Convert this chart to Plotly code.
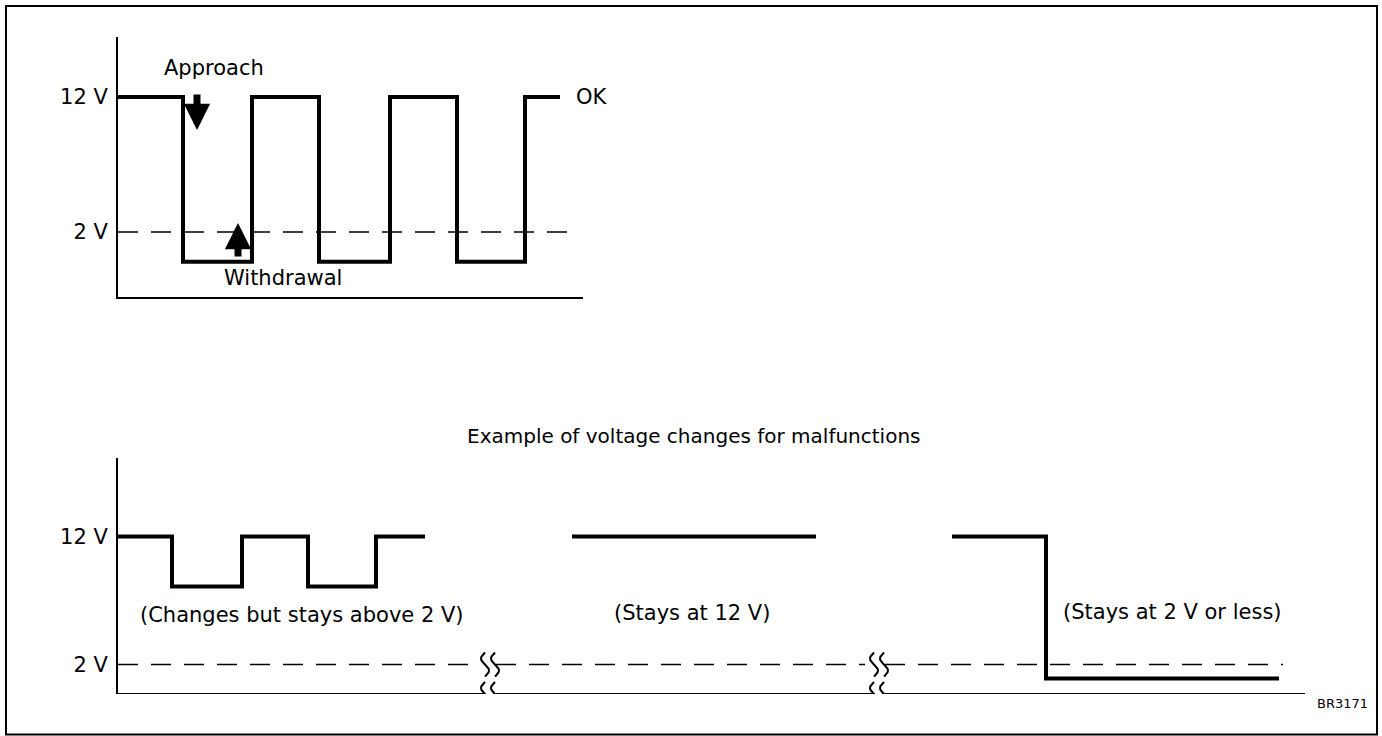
import numpy as np
import plotly.graph_objects as go

# ---- data -------------------------------------------------------------
# Normal operation: sensor output toggles between 12 V and the low level
ok_time = [0, 65, 134, 201, 272, 339, 407, 442]
ok_volts = [12, -0.2, 12, -0.2, 12, -0.2, 12, 12]

# Malfunction examples (time axis with two breaks)
chg_time = [0, 54, 124, 190, 258, 307]
chg_volts = [12, 8.1, 12, 8.1, 12, 12]
high_time = [454, 698]
high_volts = [12, 12]
low_time = [834, 928, 1161]
low_volts = [12, 0.9, 0.9]

threshold_v = 2
tick_vals = [2, 12]
tick_text = ["2 V", "12 V"]
break_times = [372, 761]

# ---- layout geometry (pixels) ----------------------------------------
W, H = 1382, 736
INK = "#000000"
FONT = "DejaVu Sans"

top_px = dict(x0=118, x1=583, y_top=37, y_bot=296.5, y12=97, y2=232)
bot_px = dict(x0=118, x1=1305, y_top=458, y_bot=694, y12=536.5, y2=664.5)


def yrange(p):
    s = (p["y2"] - p["y12"]) / 10.0
    return [2 - (p["y_bot"] - p["y2"]) / s, 12 + (p["y12"] - p["y_top"]) / s], s


top_rng, top_s = yrange(top_px)
bot_rng, bot_s = yrange(bot_px)

fig = go.Figure()

wave = dict(color=INK, width=4, shape="hv")
dash_line = dict(color=INK, width=1.6, dash="20px,13px")

# top panel
fig.add_trace(go.Scatter(x=[0, top_px["x1"] - top_px["x0"] - 3], y=[threshold_v] * 2,
                         mode="lines", line=dash_line, xaxis="x", yaxis="y"))
fig.add_trace(go.Scatter(x=ok_time, y=ok_volts, mode="lines", line=wave,
                         xaxis="x", yaxis="y"))

# bottom panel: dashed threshold and axis line, interrupted at the breaks
bx_end = bot_px["x1"] - bot_px["x0"]
gap = 6
dx, ax_y = [], []
axx, axy = [], []
starts = [0] + [b + gap for b in break_times]
ends = [b - gap - 8 for b in break_times] + [bx_end - 22]
for a, b in zip(starts, ends):
    dx += [a, b, None]
    ax_y += [threshold_v, threshold_v, None]
ends_ax = [b - gap for b in break_times] + [bx_end]
for a, b in zip(starts, ends_ax):
    axx += [a, b, None]
    axy += [bot_rng[0], bot_rng[0], None]
fig.add_trace(go.Scatter(x=dx, y=ax_y, mode="lines", line=dash_line,
                         xaxis="x2", yaxis="y2"))
fig.add_trace(go.Scatter(x=axx, y=axy, mode="lines", line=dict(color=INK, width=2),
                         xaxis="x2", yaxis="y2", cliponaxis=False))

# break symbols: pairs of small S-curves
bx, by = [], []
for b in break_times:
    for off in (-gap + 1, gap - 1):
        for yc in (threshold_v, bot_rng[0]):
            yy = np.linspace(-12, 12, 25)
            xs = b + off + 4 * np.sin(np.pi * yy / 12)
            bx += list(xs) + [None]
            by += list(yc - yy / bot_s) + [None]
fig.add_trace(go.Scatter(x=bx, y=by, mode="lines", line=dict(color=INK, width=2),
                         xaxis="x2", yaxis="y2", cliponaxis=False))

for t, v in ((chg_time, chg_volts), (high_time, high_volts), (low_time, low_volts)):
    fig.add_trace(go.Scatter(x=t, y=v, mode="lines", line=wave, xaxis="x2", yaxis="y2"))

# ---- annotations ------------------------------------------------------
txt = dict(family=FONT, size=21, color=INK)
ann = []


def label(text, x, y, xref, yref, size=21, xanchor="left"):
    ann.append(dict(text=text, x=x, y=y, xref=xref, yref=yref, showarrow=False,
                    xanchor=xanchor, yanchor="middle", font=dict(txt, size=size)))


label("Approach", 44, 12 + (97 - 68) / top_s, "x", "y")
label("Withdrawal", 104, 2 - (278 - 232) / top_s, "x", "y")
label("OK", 456, 12, "x", "y")
label("(Changes but stays above 2 V)", 20, 12 - (615 - 536.5) / bot_s, "x2", "y2")
label("(Stays at 12 V)", 494, 12 - (613 - 536.5) / bot_s, "x2", "y2")
label("(Stays at 2 V or less)", 943, 12 - (612 - 536.5) / bot_s, "x2", "y2")
label("Example of voltage changes for malfunctions", 465 / W, 1 - 436 / H,
      "paper", "paper", size=20)
label("BR3171", 1315 / W, 1 - 703 / H, "paper", "paper", size=13)

arrow = dict(text="", showarrow=True, arrowhead=2, arrowwidth=7, arrowsize=0.75,
             arrowcolor=INK, xref="x", yref="y", ax=0, standoff=0, startstandoff=0)
ann.append(dict(arrow, x=79, y=12 - (130 - 97) / top_s, ay=-37))
ann.append(dict(arrow, x=120, y=2 + (232 - 223) / top_s, ay=35))

# ---- axes -------------------------------------------------------------
def dom_x(p):
    return [p["x0"] / W, p["x1"] / W]


def dom_y(p):
    return [1 - p["y_bot"] / H, 1 - p["y_top"] / H]


yax = dict(tickvals=tick_vals, ticktext=tick_text, ticks="", showgrid=False,
           zeroline=False, showline=True, linecolor=INK, linewidth=2,
           tickfont=txt, ticklabelstandoff=4, fixedrange=True)
xax = dict(showticklabels=False, ticks="", showgrid=False, zeroline=False, fixedrange=True)

fig.update_layout(
    width=W, height=H, margin=dict(l=0, r=0, t=0, b=0),
    paper_bgcolor="white", plot_bgcolor="white", showlegend=False,
    xaxis=dict(xax, domain=dom_x(top_px), range=[0, top_px["x1"] - top_px["x0"]],
               showline=True, linecolor=INK, linewidth=2, anchor="y"),
    yaxis=dict(yax, domain=dom_y(top_px), range=top_rng, anchor="x"),
    xaxis2=dict(xax, domain=dom_x(bot_px), range=[0, bx_end], showline=False, anchor="y2"),
    yaxis2=dict(yax, domain=dom_y(bot_px), range=bot_rng, anchor="x2"),
    annotations=ann,
    shapes=[dict(type="rect", xref="paper", yref="paper", x0=6 / W, x1=1377 / W,
                 y0=1 - 734.5 / H, y1=1 - 6 / H, line=dict(color=INK, width=2))],
)

fig.write_html("out.html", config=dict(displayModeBar=False))
